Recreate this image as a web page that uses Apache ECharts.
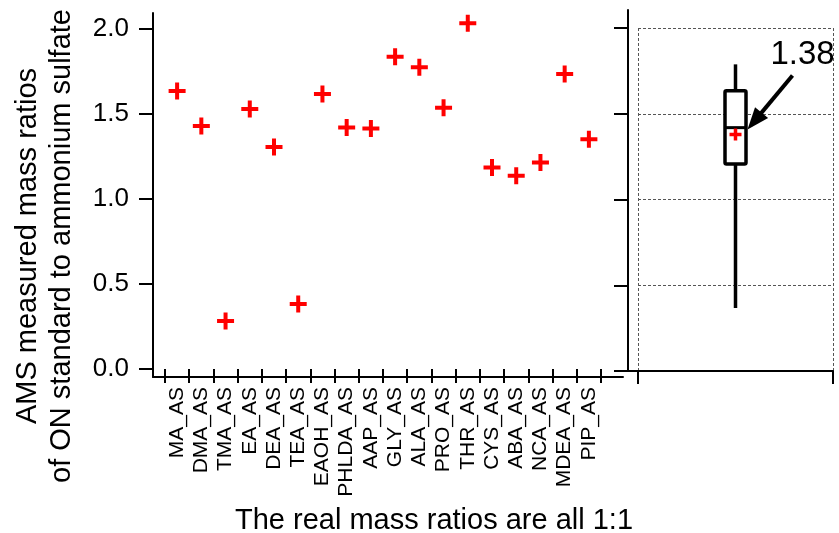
<!DOCTYPE html>
<html><head><meta charset="utf-8">
<script src="https://cdn.jsdelivr.net/npm/echarts@6/dist/echarts.min.js"></script>
<style>html,body{margin:0;padding:0;background:#fff}#c{width:839px;height:533px}</style>
</head><body><div id="c"></div>
<script>
const categories = ['MA_AS','DMA_AS','TMA_AS','EA_AS','DEA_AS','TEA_AS','EAOH_AS','PHLDA_AS','AAP_AS','GLY_AS','ALA_AS','PRO_AS','THR_AS','CYS_AS','ABA_AS','NCA_AS','MDEA_AS','PIP_AS'];
const ratios = [1.635,1.429,0.282,1.529,1.306,0.382,1.618,1.420,1.414,1.837,1.775,1.537,2.034,1.186,1.137,1.214,1.735,1.351];
// box summary: whisker low, Q1, median, Q3, whisker high
const boxStats = [0.367, 1.207, 1.419, 1.634, 1.788];
const boxCategory = ['all'];
const yMin = 0, yMax = 2.0, yStep = 0.5;
const yTitle = 'AMS measured mass ratios\nof ON standard to ammonium sulfate';
const xTitle = 'The real mass ratios are all 1:1';

const mean = ratios.reduce((a, b) => a + b, 0) / ratios.length;
const FONT = '"Liberation Sans", Arial, Helvetica, sans-serif';
const plusPath = 'path://M6.5,0H10.5V6.5H17V10.5H10.5V17H6.5V10.5H0V6.5H6.5Z';

function plusPts(cx, cy, h, t) {
  const a = t / 2;
  return [[cx - a, cy - h], [cx + a, cy - h], [cx + a, cy - a], [cx + h, cy - a], [cx + h, cy + a], [cx + a, cy + a],
          [cx + a, cy + h], [cx - a, cy + h], [cx - a, cy + a], [cx - h, cy + a], [cx - h, cy - a], [cx - a, cy - a]];
}

const frameAxis = (idx) => ({
  type: 'value', gridIndex: idx, min: 0, max: 1,
  axisLine: { show: true, onZero: false, lineStyle: { color: '#000', width: 2 } },
  axisTick: { show: false }, axisLabel: { show: false }, splitLine: { show: false }
});
const dashed = { show: true, lineStyle: { color: '#555', width: 1, type: [3, 2] } };

const chart = echarts.init(document.getElementById('c'), null, { renderer: 'canvas' });
chart.setOption({
  animation: false,
  backgroundColor: '#fff',
  textStyle: { fontFamily: FONT },
  grid: [
    { left: 153, right: 216, top: 13, bottom: 156, outerBoundsMode: 'none', containLabel: false },
    { left: 165, width: 436, top: 29, bottom: 164, outerBoundsMode: 'none', containLabel: false },
    { left: 628, right: 6, top: 10, bottom: 162, outerBoundsMode: 'none', containLabel: false },
    { left: 638, right: 6, top: 28, bottom: 162, outerBoundsMode: 'none', containLabel: false }
  ],
  xAxis: [
    frameAxis(0),
    {
      type: 'category', gridIndex: 1, data: categories, boundaryGap: true, offset: 8,
      axisLine: { show: false },
      axisTick: { show: true, length: 14, interval: 0, lineStyle: { color: '#000', width: 2 } },
      axisLabel: { rotate: 90, interval: 0, fontSize: 21, margin: 10, color: '#000', fontFamily: FONT },
      splitLine: { show: false }
    },
    frameAxis(2),
    {
      type: 'category', gridIndex: 3, data: boxCategory, boundaryGap: true,
      axisLine: { show: false },
      axisTick: { show: true, length: 13, lineStyle: { color: '#000', width: 2 } },
      axisLabel: { show: false },
      splitLine: dashed
    }
  ],
  yAxis: [
    frameAxis(0),
    {
      type: 'value', gridIndex: 1, min: yMin, max: yMax, interval: yStep, offset: 12,
      axisLine: { show: false },
      axisTick: { show: true, length: 14, lineStyle: { color: '#000', width: 2 } },
      axisLabel: { fontSize: 26, margin: 24, color: '#000', fontFamily: FONT, formatter: v => v.toFixed(1) },
      splitLine: { show: false }
    },
    frameAxis(2),
    {
      type: 'value', gridIndex: 3, min: yMin, max: yMax, interval: yStep, offset: 10,
      axisLine: { show: false },
      axisTick: { show: true, length: 14, lineStyle: { color: '#000', width: 2 } },
      axisLabel: { show: false },
      splitLine: dashed
    }
  ],
  series: [
    {
      type: 'scatter', xAxisIndex: 1, yAxisIndex: 1, clip: false,
      data: ratios.map((v, i) => [i, v]),
      symbol: plusPath, symbolSize: 17,
      itemStyle: { color: '#ff0000', opacity: 1 }
    },
    {
      type: 'custom', xAxisIndex: 3, yAxisIndex: 3, clip: false,
      data: [[0].concat(boxStats).concat([mean])],
      encode: { x: 0, y: [1, 2, 3, 4, 5] },
      renderItem: function (params, api) {
        const c = api.coord([api.value(0), api.value(3)]);
        const x = c[0];
        const yLow = api.coord([0, api.value(1)])[1];
        const yQ1 = api.coord([0, api.value(2)])[1];
        const yMed = c[1];
        const yQ3 = api.coord([0, api.value(4)])[1];
        const yHigh = api.coord([0, api.value(5)])[1];
        const yMean = api.coord([0, api.value(6)])[1];
        const hw = 10.5;
        const ls = { stroke: '#000', lineWidth: 3.5, fill: null };
        const tip = [x + hw + 1.5, yMean - 5];
        const tail = [tip[0] + 45, tip[1] - 54];
        const dx = tip[0] - tail[0], dy = tip[1] - tail[1];
        const L = Math.sqrt(dx * dx + dy * dy);
        const ux = dx / L, uy = dy / L;
        const hl = 22, hwid = 8.5;
        const base = [tip[0] - ux * hl, tip[1] - uy * hl];
        return {
          type: 'group',
          children: [
            { type: 'line', shape: { x1: x, y1: yLow, x2: x, y2: yQ1 }, style: ls },
            { type: 'line', shape: { x1: x, y1: yQ3, x2: x, y2: yHigh }, style: ls },
            { type: 'rect', shape: { x: x - hw, y: yQ3, width: 2 * hw, height: yQ1 - yQ3, r: 1.5 }, style: { stroke: '#000', lineWidth: 3.5, fill: '#fff' } },
            { type: 'line', shape: { x1: x - hw, y1: yMed, x2: x + hw, y2: yMed }, style: { stroke: '#000', lineWidth: 3 } },
            { type: 'polygon', shape: { points: plusPts(x, yMean, 6, 3.5) }, style: { fill: '#ff0000' } },
            { type: 'line', shape: { x1: tail[0], y1: tail[1], x2: base[0] + ux * 2, y2: base[1] + uy * 2 }, style: { stroke: '#000', lineWidth: 4 } },
            { type: 'polygon', shape: { points: [tip, [base[0] - uy * hwid, base[1] + ux * hwid], [base[0] + uy * hwid, base[1] - ux * hwid]] }, style: { fill: '#000' } },
            { type: 'text', x: x + 35, y: yMean - 80, style: { text: mean.toFixed(2), fontSize: 33, fontFamily: FONT, fill: '#000', align: 'left', verticalAlign: 'middle' } }
          ]
        };
      }
    }
  ],
  graphic: [
    { type: 'text', x: 434, y: 521, style: { text: xTitle, fontSize: 29, fontFamily: FONT, fill: '#000', align: 'center', verticalAlign: 'middle' } },
    { type: 'text', x: 45, y: 246, rotation: Math.PI / 2, style: { text: yTitle, fontSize: 29, lineHeight: 34, fontFamily: FONT, fill: '#000', align: 'center', verticalAlign: 'middle' } }
  ]
});
</script>
</body></html>
